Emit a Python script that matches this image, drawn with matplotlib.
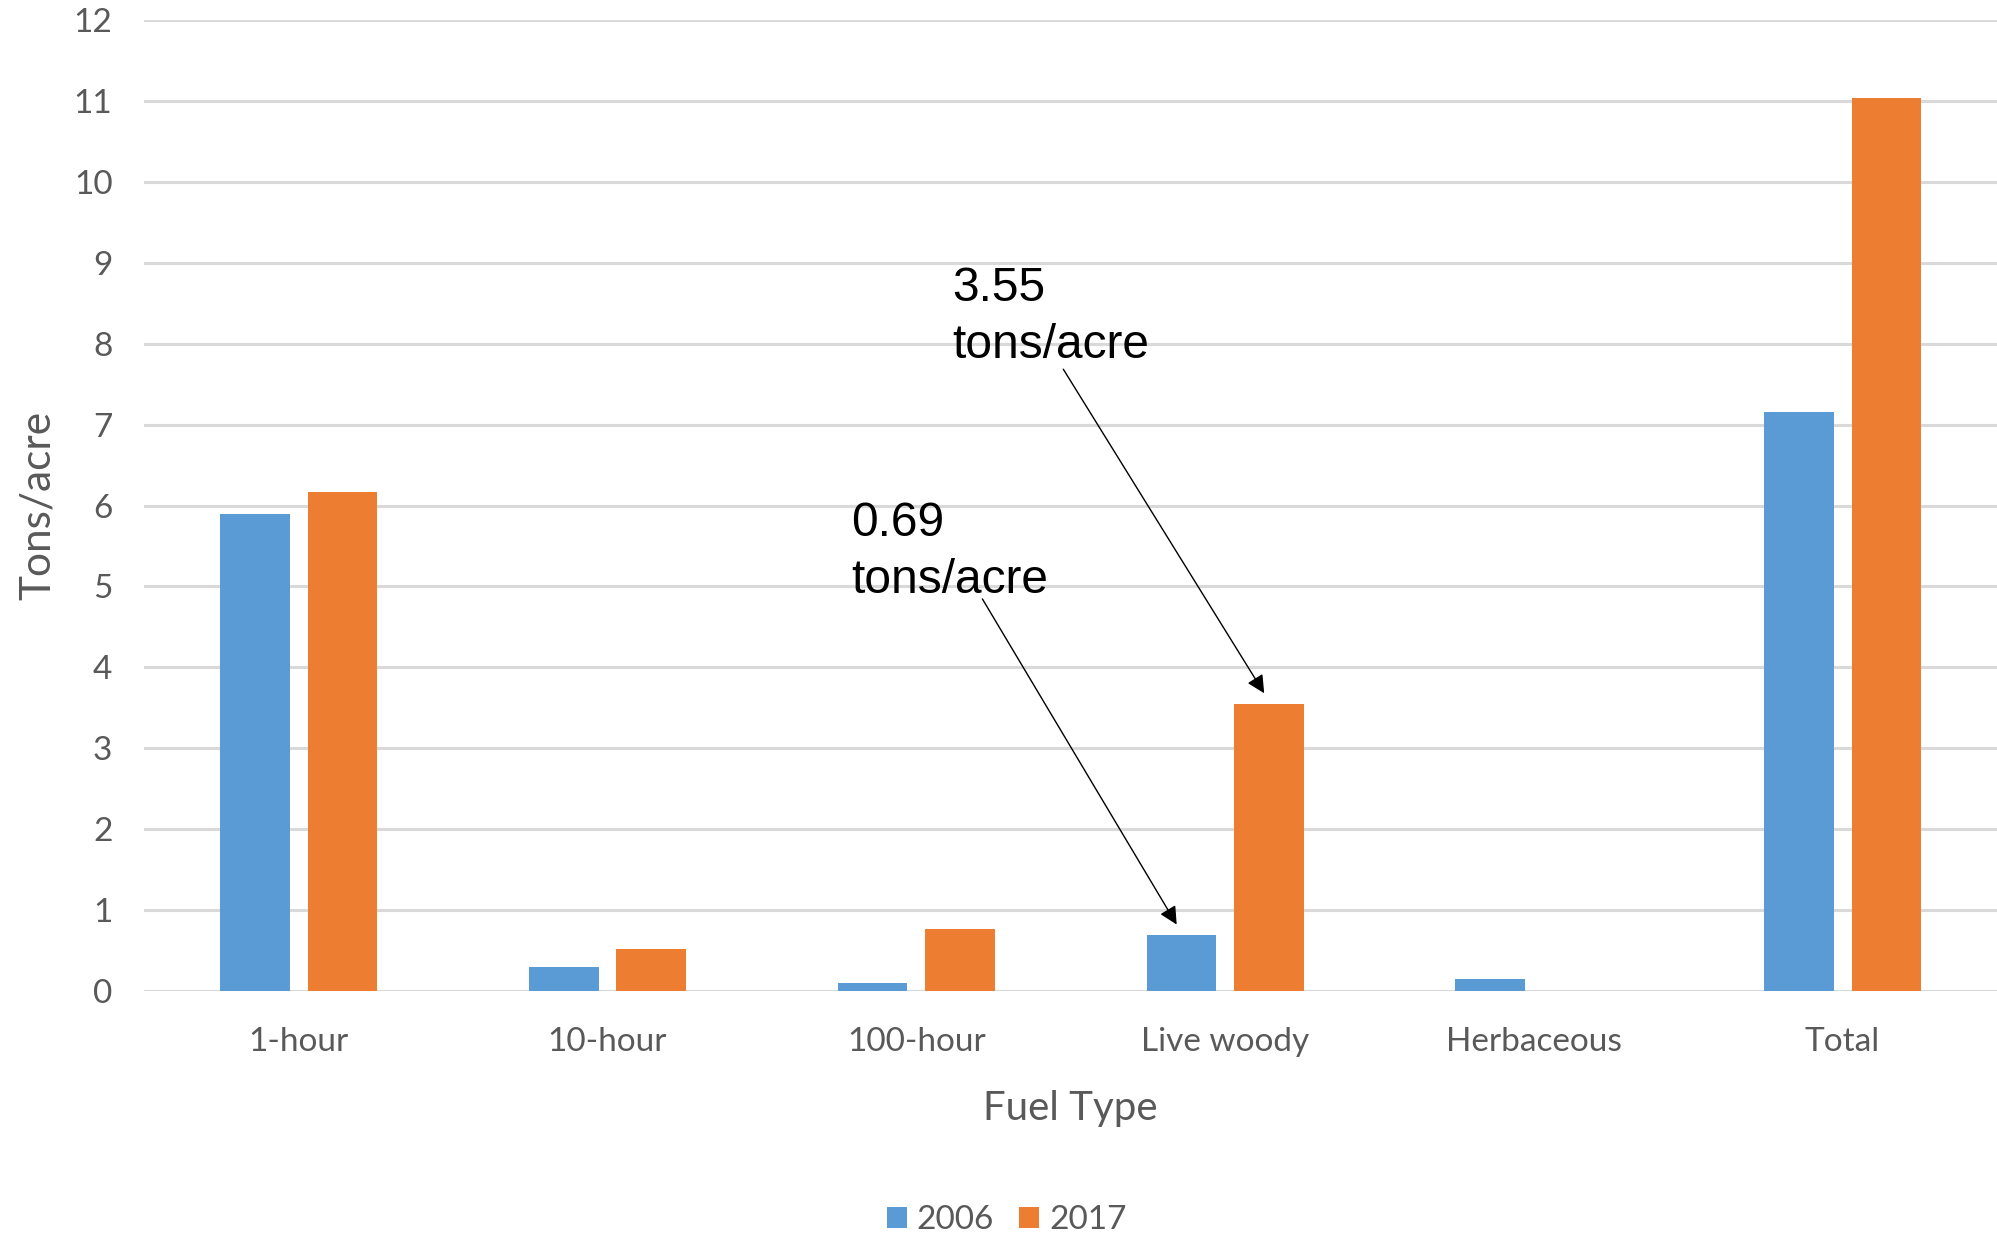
import numpy as np
import matplotlib.pyplot as plt

categorias = ["1-hour", "10-hour", "100-hour", "Live woody", "Herbaceous", "Total"]
anios = ["2006", "2017"]
valores_2006 = [5.9, 0.3, 0.1, 0.69, 0.15, 7.16]
valores_2017 = [6.17, 0.52, 0.77, 3.55, 0, 11.04]

azul = "#5B9BD5"
naranja = "#ED7D31"
gris = "#595959"

fig = plt.figure(figsize=(19.97, 12.35), dpi=100)
ax = fig.add_axes([0.0723, 0.1977, 0.9277, 0.7858])

x = np.arange(len(categorias))
ancho = 0.2255
desp = 0.1417
ax.bar(x - desp, valores_2006, ancho, color=azul, label=anios[0], zorder=3)
ax.bar(x + desp, valores_2017, ancho, color=naranja, label=anios[1], zorder=3)

ax.set_xlim(-0.5, len(categorias) - 0.5)
ax.set_ylim(0, 12)
ax.set_yticks(range(0, 13))
ax.set_xticks(x)
ax.set_xticklabels(categorias)

# rejilla gris estilo Excel
ax.grid(axis="y", color="#D9D9D9", lw=2.2, zorder=0)
for s in ax.spines.values():
    s.set_visible(False)
ax.tick_params(axis="both", length=0, labelsize=24, labelcolor=gris)
ax.tick_params(axis="y", pad=23)
ax.tick_params(axis="x", pad=26)
for t in ax.get_xticklabels() + ax.get_yticklabels():
    t.set_family("Lato")

ax.set_xlabel("Fuel Type", fontsize=29, color=gris, family="Lato")
ax.set_ylabel("Tons/acre", fontsize=30.5, color=gris, family="Lato")
ax.xaxis.set_label_coords(0.5, -0.102)
ax.yaxis.set_label_coords(-0.0475, 0.5)

# anotaciones con flechas hacia las barras de Live woody
i = categorias.index("Live woody")
notas = [
    (valores_2006[i], i - desp, (1.788, 4.917), (2.214, 4.846)),
    (valores_2017[i], i + desp, (2.117, 7.822), (2.476, 7.687)),
]
for val, xb, pos_txt, inicio in notas:
    # va="baseline" alinea la ultima linea del texto
    ax.text(pos_txt[0], pos_txt[1], "%.2f\ntons/acre" % val, fontsize=34.5,
            family="Liberation Sans", color="black", ha="left", va="baseline",
            linespacing=1.36)
    ax.annotate("", xy=(xb - 0.015, val + 0.13), xytext=inicio,
                arrowprops=dict(arrowstyle="-|>,head_length=0.4,head_width=0.2",
                                mutation_scale=27, color="black", lw=1.0,
                                shrinkA=0, shrinkB=0))

ley = fig.legend(loc="center", bbox_to_anchor=(0.504, 0.0121), ncol=2, frameon=False,
                 handlelength=0.6, handleheight=0.6,
                 handletextpad=0.3, columnspacing=0.75, prop={"family": "Lato", "size": 24})
for t in ley.get_texts():
    t.set_color(gris)

fig.savefig("out.png", dpi=100)
